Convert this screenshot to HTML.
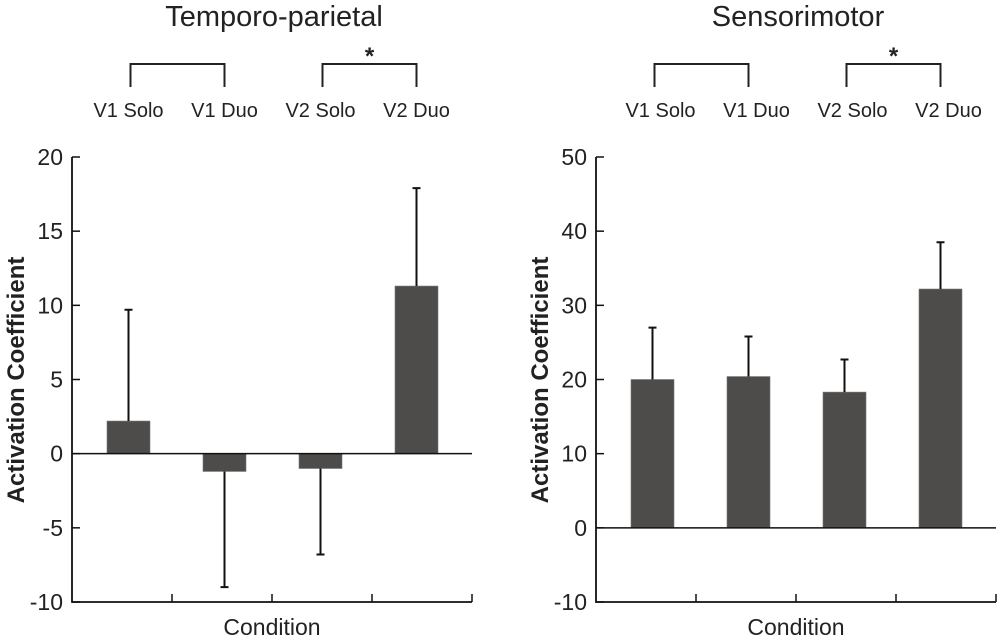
<!DOCTYPE html>
<html><head><meta charset="utf-8"><style>
body{margin:0;background:#fff}
svg{display:block;font-family:"Liberation Sans",Arial,sans-serif}
</style></head><body>
<svg id="fig" width="1000" height="638" viewBox="0 0 1000 638"></svg>
<script>
const categories = ["V1 Solo","V1 Duo","V2 Solo","V2 Duo"];
const tpValues = [2.2, -1.2, -1.0, 11.3];
const tpErrEnds = [9.7, -9.0, -6.8, 17.9];
const tpTicks = [-10,-5,0,5,10,15,20];
const smValues = [20.0, 20.4, 18.3, 32.2];
const smErrEnds = [27.0, 25.8, 22.7, 38.5];
const smTicks = [-10,0,10,20,30,40,50];

const NS="http://www.w3.org/2000/svg";
const svg=document.getElementById('fig');
function el(tag,attrs,parent,text){const e=document.createElementNS(NS,tag);for(const k in attrs)e.setAttribute(k,attrs[k]);if(text!==undefined)e.textContent=text;(parent||svg).appendChild(e);return e;}

function panel(opts){
  const g=el('g',{});
  
  
  const x0=opts.x0, x1=opts.x0+400, yTop=157, yBot=602;
  const vmin=opts.ticks[0], vmax=opts.ticks[opts.ticks.length-1];
  const y=v=>yBot-(v-vmin)/(vmax-vmin)*(yBot-yTop);
  const xc=i=>x0+56.5+i*96;
  const t=el('text',{x:x0+202,y:26,'text-anchor':'middle','font-size':29,fill:'#222'},g,opts.title);
  
  
  [[0,1,false],[2,3,true]].forEach(([a,b,star])=>{
    const p=el('path',{d:`M${xc(a)+2+opts.bOff},87 V64 H${xc(b)+opts.bOff} V87`,fill:'none',stroke:'#222','stroke-width':2},g);
    
    
    if(star){const s=el('text',{x:(xc(a)+xc(b))/2+opts.bOff+1,y:64,'text-anchor':'middle','font-size':24,'font-weight':'bold',fill:'#222'},g,'*');
      
      }
  });
  categories.forEach((c,i)=>{
    const l=el('text',{x:xc(i)+opts.lOff,y:117,'text-anchor':'middle','font-size':20,fill:'#222'},g,c);
    
    
  });
  opts.values.forEach((v,i)=>{
    const top=Math.min(y(v),y(0)),h=Math.abs(y(v)-y(0));
    const r=el('rect',{x:xc(i)-21.5,y:top,width:43,height:h,fill:'#4d4c4a',stroke:'#777','stroke-width':0.6},g);
    
    
    const e=opts.errs[i];
    const eb=el('path',{d:`M${xc(i)},${y(v)} V${y(e)} M${xc(i)-4},${y(e)} H${xc(i)+4}`,stroke:'#111','stroke-width':2,fill:'none'},g);
    
    
  });
  const z=el('line',{x1:x0,x2:x1,y1:y(0),y2:y(0),stroke:'#111','stroke-width':1.5},g);
  
  
  const ax=el('path',{d:`M${x0},${yTop} V${yBot} H${x1}`,fill:'none',stroke:'#111','stroke-width':1.8},g);
  
  
  opts.ticks.forEach(tv=>{
    el('line',{x1:x0,x2:x0+8,y1:y(tv),y2:y(tv),stroke:'#111','stroke-width':1.5},g);
    const tl=el('text',{x:x0-9,y:y(tv)+8,'text-anchor':'end','font-size':23,fill:'#222'},g,String(tv));
    
    
  });
  for(let k=1;k<=4;k++){el('line',{x1:x0+k*100,x2:x0+k*100,y1:yBot,y2:yBot-8,stroke:'#111','stroke-width':1.5},g);}
  const xt=el('text',{x:x0+200,y:635,'text-anchor':'middle','font-size':23,fill:'#222'},g,'Condition');
  
  
  const yt=el('text',{x:0,y:0,transform:`translate(${x0-48},380) rotate(-90)`,'text-anchor':'middle','font-size':24,'font-weight':'bold',fill:'#222'},g,'Activation Coefficient');
  
  
}
panel({name:'temporo-parietal-panel',title:'Temporo-parietal',x0:72,values:tpValues,errs:tpErrEnds,ticks:tpTicks,lOff:0,bOff:0});
panel({name:'sensorimotor-panel',title:'Sensorimotor',x0:596,values:smValues,errs:smErrEnds,ticks:smTicks,lOff:8,bOff:0});
</script>
</body></html>
